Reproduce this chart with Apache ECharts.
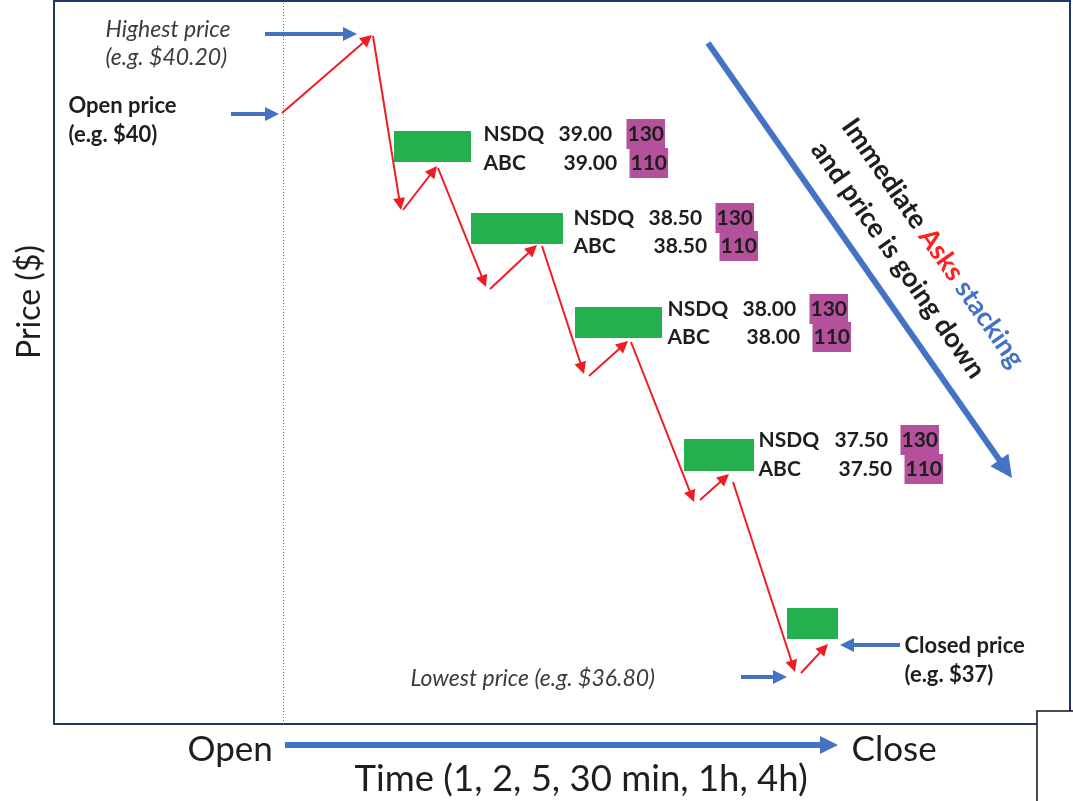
<!DOCTYPE html>
<html><head><meta charset="utf-8">
<script src="https://cdn.jsdelivr.net/npm/echarts@6/dist/echarts.min.js"></script>
<style>html,body{margin:0;padding:0;background:#fff}#c{width:1073px;height:801px}</style>
</head><body><div id="c"></div>
<script>
// Diagram units: x = time position (Open -> Close), y = price level (diagram scale, not linear in $)
const priceMoves = [
  [228,611, 318,689],
  [319,688, 347,514],
  [349,514, 383,558],
  [384,556, 432,437],
  [436,435, 483,479],
  [488,478, 530,350],
  [535,348, 574,383],
  [577,382, 640,222],
  [646,224, 675,250],
  [679,242, 741,52],
  [747,51, 774,80]
];
const pointerArrows = [
  [211,690, 303,690],   // highest price
  [177,610, 225,610],   // open price
  [687,47, 733,47],     // lowest price
  [846,79, 786,79]      // closed price
];
const trendArrow = [654,681, 958,246];
const timeArrow = [231,-21, 784,-21];
const openMarker = [229,0, 229,723];

const askBoxes = [
  [340,593, 417,562],
  [417,511, 509,480],
  [521,417, 608,386],
  [630,285, 700,253],
  [733,116, 784,85]
];

const venues = ['NSDQ','ABC'];
const askPrices = ['39.00','38.50','38.00','37.50'];
const askSizes = [130, 110];
const quoteRowY = [[590,561],[506,478],[415,387],[284,255]];
const venueX = [429,519,613,704];
const priceX = [[504,509],[594,599],[688,692],[780,784]];
const sizeX = [[572,575],[661,665],[755,758],[846,850]];

const FONT = 'Lato, "Open Sans", sans-serif';
const BLUE = '#4472C4', RED = '#EE1D23', GREEN = '#24B04F', MAGENTA = '#B5509D', INK = '#1E1E1E';

const venuePts = [], pricePts = [], sizePts = [];
askPrices.forEach((p, i) => {
  venues.forEach((v, r) => {
    venuePts.push([venueX[i], quoteRowY[i][r], v]);
    pricePts.push([priceX[i][r], quoteRowY[i][r], p]);
    sizePts.push([sizeX[i][r], quoteRowY[i][r], String(askSizes[r])]);
  });
});

// segment with arrow tip landing on the end point (head length h)
function seg(a, h){
  h = h || 0;
  const dx = a[2]-a[0], dy = a[3]-a[1], L = Math.hypot(dx, dy);
  const k = L ? (L - h/2)/L : 1;
  return {coords:[[a[0],a[1]],[a[0]+dx*k, a[1]+dy*k]]};
}

const annotations = [
  {value:[51,694,'Highest price'], style:{fontStyle:'italic', fontSize:23, color:'#3C3C3C'}},
  {value:[51,666,'(e.g. $40.20)'], style:{fontStyle:'italic', fontSize:23, color:'#3C3C3C'}},
  {value:[14,618,'Open price'], style:{fontWeight:'bold', fontSize:22, color:INK}},
  {value:[14,589,'(e.g. $40)'], style:{fontWeight:'bold', fontSize:22, color:INK}},
  {value:[356,45,'Lowest price (e.g. $36.80)'], style:{fontStyle:'italic', fontSize:23, color:'#3C3C3C'}},
  {value:[850,78,'Closed price'], style:{fontWeight:'bold', fontSize:22, color:INK}},
  {value:[850,49,'(e.g. $37)'], style:{fontWeight:'bold', fontSize:22, color:INK}},
  {value:[133,-26,'Open'], style:{fontSize:35, color:INK}},
  {value:[797,-26,'Close'], style:{fontSize:35, color:INK}},
  {value:[300,-55,'Time (1, 2, 5, 30 min, 1h, 4h)'], style:{fontSize:36.5, color:INK}}
];

const hidden = {color:'rgba(0,0,0,0)', opacity:1};

const chart = echarts.init(document.getElementById('c'), null, {renderer:'canvas'});
chart.setOption({
  animation:false,
  backgroundColor:'#fff',
  grid:{left:54, right:3, top:1, bottom:77, show:true, borderColor:'#1F3864', borderWidth:2},
  xAxis:{type:'value', min:0, max:1016, show:false},
  yAxis:{type:'value', min:0, max:723, show:false},
  graphic:[{type:'rect', z:100, shape:{x:1037, y:711, width:60, height:100}, style:{fill:'#fff', stroke:'#111', lineWidth:1.5}}],
  series:[
    {type:'lines', coordinateSystem:'cartesian2d', silent:true, clip:false, z:1,
     lineStyle:{color:'#3F6FD0', width:1, type:[1,2], opacity:1}, symbol:['none','none'],
     data:[seg(openMarker)]},
    {type:'custom', coordinateSystem:'cartesian2d', silent:true, clip:false, z:2,
     data:askBoxes,
     renderItem:function(params, api){
       const p1 = api.coord([api.value(0), api.value(1)]);
       const p2 = api.coord([api.value(2), api.value(3)]);
       return {type:'rect', shape:{x:p1[0], y:p1[1], width:p2[0]-p1[0], height:p2[1]-p1[1]}, style:{fill:GREEN}};
     }},
    {type:'lines', coordinateSystem:'cartesian2d', silent:true, clip:false, z:3,
     lineStyle:{color:RED, width:2, opacity:1}, symbol:['none','triangle'], symbolSize:[9,12],
     data:priceMoves.map(a=>seg(a,12))},
    {type:'lines', coordinateSystem:'cartesian2d', silent:true, clip:false, z:3,
     lineStyle:{color:BLUE, width:4, opacity:1}, symbol:['none','triangle'], symbolSize:[15,14],
     data:pointerArrows.map(a=>seg(a,14))},
    {type:'lines', coordinateSystem:'cartesian2d', silent:true, clip:false, z:3,
     lineStyle:{color:BLUE, width:6, opacity:1}, symbol:['none','triangle'], symbolSize:[24,22],
     data:[seg(trendArrow,22)]},
    {type:'lines', coordinateSystem:'cartesian2d', silent:true, clip:false, z:3,
     lineStyle:{color:BLUE, width:6, opacity:1}, symbol:['none','triangle'], symbolSize:[17,18],
     data:[seg(timeArrow,18)]},
    {type:'scatter', silent:true, clip:false, z:5, symbolSize:1, itemStyle:hidden,
     data:venuePts,
     label:{show:true, position:'right', distance:0, formatter:p=>p.value[2],
            fontFamily:FONT, fontWeight:'bold', fontSize:21, color:INK}},
    {type:'scatter', silent:true, clip:false, z:5, symbolSize:1, itemStyle:hidden,
     data:pricePts,
     label:{show:true, position:'right', distance:0, formatter:p=>p.value[2],
            fontFamily:FONT, fontWeight:'bold', fontSize:21, color:INK}},
    {type:'scatter', silent:true, clip:false, z:5, symbolSize:1, itemStyle:hidden,
     data:sizePts,
     label:{show:true, position:'right', distance:0, formatter:p=>p.value[2],
            fontFamily:FONT, fontWeight:'bold', fontSize:21, color:INK,
            backgroundColor:MAGENTA, padding:[5,1,4,1]}},
    {type:'scatter', silent:true, clip:false, z:5, symbolSize:1, itemStyle:hidden,
     data:annotations.map(a=>({value:a.value, label:Object.assign({fontFamily:FONT}, a.style)})),
     label:{show:true, position:'right', distance:0, formatter:p=>p.value[2], fontFamily:FONT}},
    {type:'scatter', silent:true, clip:false, z:5, symbolSize:1, itemStyle:hidden,
     data:[{value:[-24,422,'Price ($)']}],
     label:{show:true, position:'inside', rotate:90, formatter:p=>p.value[2],
            fontFamily:FONT, fontSize:32, color:INK}},
    {type:'scatter', silent:true, clip:false, z:5, symbolSize:1, itemStyle:hidden,
     data:[{value:[879,481,'l1']},{value:[844,464,'l2']}],
     label:{show:true, position:'inside', rotate:-55, align:'center', verticalAlign:'middle',
            fontFamily:FONT, fontWeight:'bold', fontSize:27, color:INK,
            formatter:p=> p.value[2]==='l1' ? '{k|Immediate }{r|Asks }{b|stacking}' : '{k|and price is going down}',
            rich:{k:{color:INK, fontFamily:FONT, fontWeight:'bold', fontSize:27},
                  r:{color:'#FF1F1F', fontFamily:FONT, fontWeight:'bold', fontSize:27},
                  b:{color:BLUE, fontFamily:FONT, fontWeight:'bold', fontSize:27}}}}
  ]
});
</script></body></html>
